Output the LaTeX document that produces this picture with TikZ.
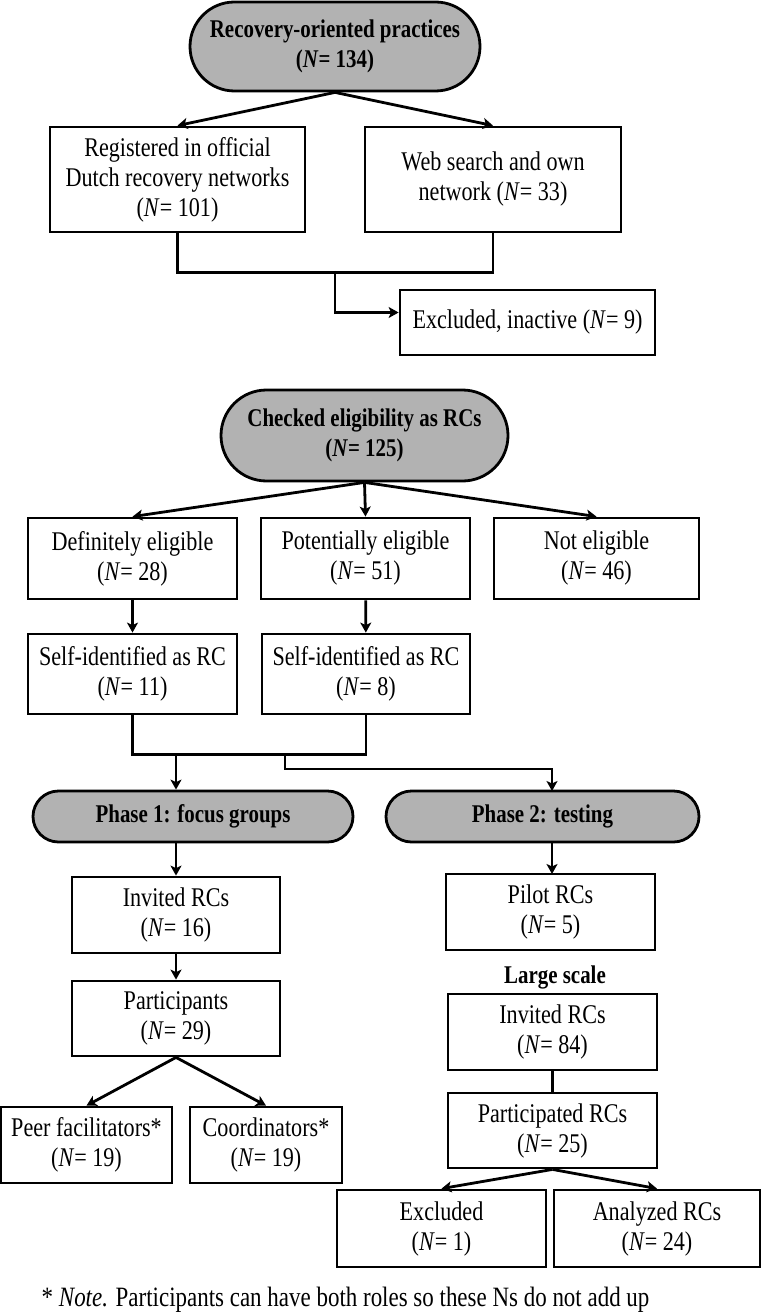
\documentclass[tikz,border=0pt]{standalone}
\usepackage{fontspec}
\setmainfont[FakeStretch=0.82]{Liberation Serif}
\usetikzlibrary{arrows.meta,positioning,shapes.misc}

\begin{document}
\begin{tikzpicture}[x=1pt,y=-1pt,>={Stealth[length=10pt,width=11pt,inset=2.5pt]}, line width=2.8pt, every node/.style={font=\fontsize{27}{30}\selectfont}]
\tikzstyle{blk}=[draw, align=center, inner sep=0pt, minimum height=76pt]
\tikzstyle{trm}=[draw, rounded rectangle, fill=gray!60, align=center, inner sep=0pt, font=\fontsize{25.5}{30}\selectfont\bfseries]
\useasboundingbox (0,0) rectangle (762,1313);
% recruitment
\node[trm, minimum width=290pt, minimum height=89pt] (rec) at (335,46.5) {Recovery-oriented practices\\(\textit{N}= 134)};
\node[blk, minimum width=255pt, minimum height=105pt] (reg) at (177.5,179.5) {Registered in official\\Dutch recovery networks\\(\textit{N}= 101)};
\node[blk, minimum width=256pt, minimum height=105pt] (web) at (493,179.5) {Web search and own\\network (\textit{N}= 33)};
\node[blk, minimum width=255pt, minimum height=65pt] (excl) at (527.5,322.5) {Excluded, inactive (\textit{N}= 9)};
\draw[->] (rec.south) -- (reg.north);
\draw[->] (rec.south) -- (web.north);
\draw (reg.south) -- ++(0,39) -| (web.south);
\coordinate (j1) at (335,271);
\draw[->] (j1) |- ([yshift=10pt]excl.west);
% eligibility
\node[trm, minimum width=287pt, minimum height=91pt] (chk) at (364.5,435.5) {Checked eligibility as RCs\\(\textit{N}= 125)};
\node[blk, minimum width=209pt, minimum height=81pt] (defel) at (132.5,558.5) {Definitely eligible\\(\textit{N}= 28)};
\node[blk, minimum width=209pt, minimum height=81pt] (potel) at (365.5,558.5) {Potentially eligible\\(\textit{N}= 51)};
\node[blk, minimum width=205pt, minimum height=81pt] (notel) at (596.5,558.5) {Not eligible\\(\textit{N}= 46)};
\node[blk, minimum width=209pt, minimum height=80pt] (self1) at (132.5,674) {Self-identified as RC\\(\textit{N}= 11)};
\node[blk, minimum width=208pt, minimum height=80pt] (self2) at (366,674) {Self-identified as RC\\(\textit{N}= 8)};
\draw[->] (chk.south) -- (defel.north);
\draw[->] (chk.south) -- (potel.north);
\draw[->] (chk.south) -- (notel.north);
\draw[->] (defel) -- (self1);
\draw[->] (potel) -- (self2);
\draw (self1.south) -- ++(0,39) -| (self2.south);
% phases
\node[trm, minimum width=320pt, minimum height=51pt] (ph1) at (193,816.5) {Phase 1: focus groups};
\node[trm, minimum width=313pt, minimum height=51pt] (ph2) at (542.5,816.5) {Phase 2: testing};
\coordinate (j2a) at (176,753);
\coordinate (j2b) at (285,753);
\draw[->] (j2a) -- (j2a |- ph1.north);
\draw[->] (j2b) -- ++(0,16) -| (552,791);
% phase 1
\node[blk, minimum width=208pt] (inv1) at (176,915) {Invited RCs\\(\textit{N}= 16)};
\node[blk, minimum width=208pt, minimum height=75pt] (part) at (176,1018.5) {Participants\\(\textit{N}= 29)};
\node[blk, minimum width=171pt] (peer) at (86.5,1145) {Peer facilitators*\\(\textit{N}= 19)};
\node[blk, minimum width=152pt] (coord) at (266,1145) {Coordinators*\\(\textit{N}= 19)};
\draw[->] (inv1.north |- ph1.south) -- (inv1.north);
\draw[->] (inv1) -- (part);
\draw[->] (part.south) -- (peer.north);
\draw[->] (part.south) -- (coord.north);
% phase 2
\node[blk, minimum width=209pt] (pilot) at (550.5,912) {Pilot RCs\\(\textit{N}= 5)};
\node[font=\fontsize{25.5}{30}\selectfont\bfseries] (lrg) at (555,977) {Large scale};
\node[blk, minimum width=209pt] (inv2) at (552.5,1032) {Invited RCs\\(\textit{N}= 84)};
\node[blk, minimum width=209pt, minimum height=75pt] (partrc) at (552.5,1130.5) {Participated RCs\\(\textit{N}= 25)};
\node[blk, minimum width=209pt, minimum height=77pt] (excl2) at (441.5,1228.5) {Excluded\\(\textit{N}= 1)};
\node[blk, minimum width=206pt, minimum height=77pt] (anal) at (657,1228.5) {Analyzed RCs\\(\textit{N}= 24)};
\draw[->] (552,842) -- (552,874);
\draw (inv2) -- (partrc);
\draw[->] (partrc.south) -- (excl2.north);
\draw[->] (partrc.south) -- (anal.north);
\node[anchor=west, font=\fontsize{28}{30}\selectfont] (note) at (37,1300) {* \textit{Note.} Participants can have both roles so these Ns do not add up};
\end{tikzpicture}
\end{document}
